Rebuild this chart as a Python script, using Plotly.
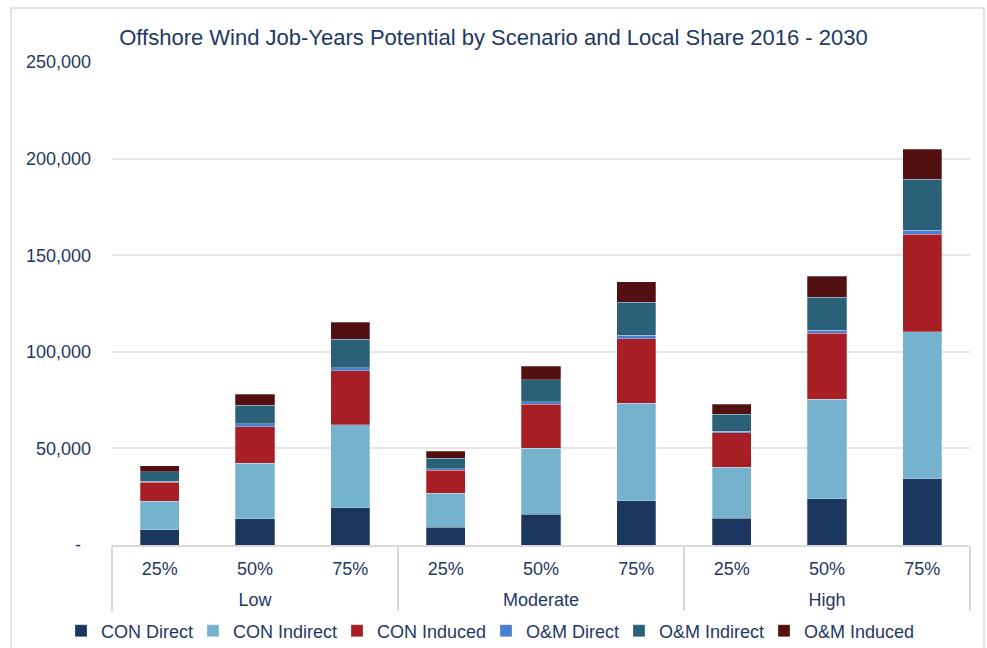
import plotly.graph_objects as go

scenarios = ["Low", "Low", "Low", "Moderate", "Moderate", "Moderate", "High", "High", "High"]
shares = ["25%", "50%", "75%", "25%", "50%", "75%", "25%", "50%", "75%"]

series_names = ["CON Direct", "CON Indirect", "CON Induced", "O&M Direct", "O&M Indirect", "O&M Induced"]
con_direct = [7800, 13500, 19200, 9200, 15900, 22900, 13800, 24000, 34300]
con_indirect = [14800, 28800, 43000, 17600, 34200, 50600, 26400, 51400, 76100]
con_induced = [10000, 19000, 28100, 11900, 22800, 33300, 17900, 34200, 50400]
om_direct = [500, 1400, 1550, 700, 1200, 1750, 900, 1550, 2200]
om_indirect = [4800, 9700, 14700, 5500, 11400, 17200, 8600, 17200, 26200]
om_induced = [3000, 5700, 8800, 3600, 6900, 10400, 5200, 10700, 15700]
series_values = [con_direct, con_indirect, con_induced, om_direct, om_indirect, om_induced]
colors = ["#1B365F", "#74B2CE", "#A71F24", "#4A7FCF", "#2A6078", "#521013"]

y_tickvals = [0, 50000, 100000, 150000, 200000, 250000]
y_ticktext = ["-\u00a0\u00a0", "50,000", "100,000", "150,000", "200,000", "250,000"]

text_color = "#1F3864"
font_family = "Liberation Sans, Arial, sans-serif"

# axis labels: base tick font is small so the blank first line of the group label is short;
# the visible text is drawn at 18px
small = 15
big = "<span style='font-size:18px'>{}</span>"
group_labels = ["<br>" + big.format(s) for s in scenarios]
share_labels = [big.format(s) for s in shares]

legend_ids = ["legend", "legend2", "legend3", "legend4", "legend5", "legend6"]
legend_left = [61, 193, 337, 486, 619, 764]

fig = go.Figure()
for name, vals, col, lid in zip(series_names, series_values, colors, legend_ids):
    fig.add_trace(go.Bar(
        x=[group_labels, share_labels], y=vals, name=name,
        marker=dict(color=col, line=dict(color="rgba(255,255,255,0.45)", width=0.6)),
        legend=lid,
    ))

legend_common = dict(orientation="h", xref="container", xanchor="left",
                     yref="container", y=1 - 631 / 648, yanchor="middle",
                     font=dict(size=18, color=text_color),
                     itemwidth=30, bgcolor="rgba(0,0,0,0)")
legends = {lid: dict(legend_common, x=xl / 987) for lid, xl in zip(legend_ids, legend_left)}

fig.update_layout(
    barmode="stack",
    bargap=0.59,
    width=987, height=648,
    paper_bgcolor="white", plot_bgcolor="white",
    margin=dict(l=112, r=17, t=62, b=103),
    font=dict(family=font_family, size=18, color=text_color),
    title=dict(text="Offshore Wind Job-Years Potential by Scenario and Local Share 2016 - 2030",
               x=0.5, xanchor="center", xref="container",
               y=1 - 37 / 648, yanchor="middle", yref="container",
               font=dict(size=22, color=text_color, family=font_family)),
    showlegend=True,
    **legends,
)
fig.update_layout(shapes=[dict(type="rect", xref="x domain", yref="y domain",
                               x0=-101 / 858, x1=1.0 + 14 / 858, y0=-1.3, y1=1 + 54 / 483,
                               line=dict(color="#D9D9D9", width=1.5), layer="below")])

fig.update_yaxes(range=[0, 250000], tickvals=y_tickvals, ticktext=y_ticktext,
                 showgrid=True, gridcolor="#E5E5E8", gridwidth=1.5,
                 zeroline=False, showline=False, ticks="", ticklabelstandoff=20,
                 tickfont=dict(size=18, color=text_color))
fig.update_xaxes(showline=True, linecolor="#D9D9D9", linewidth=1.5,
                 showdividers=True, dividercolor="#D9D9D9", dividerwidth=1.5,
                 tickfont=dict(size=small, color=text_color), ticks="",
                 ticklabelstandoff=10, automargin=False)

fig.write_html("out.html")
